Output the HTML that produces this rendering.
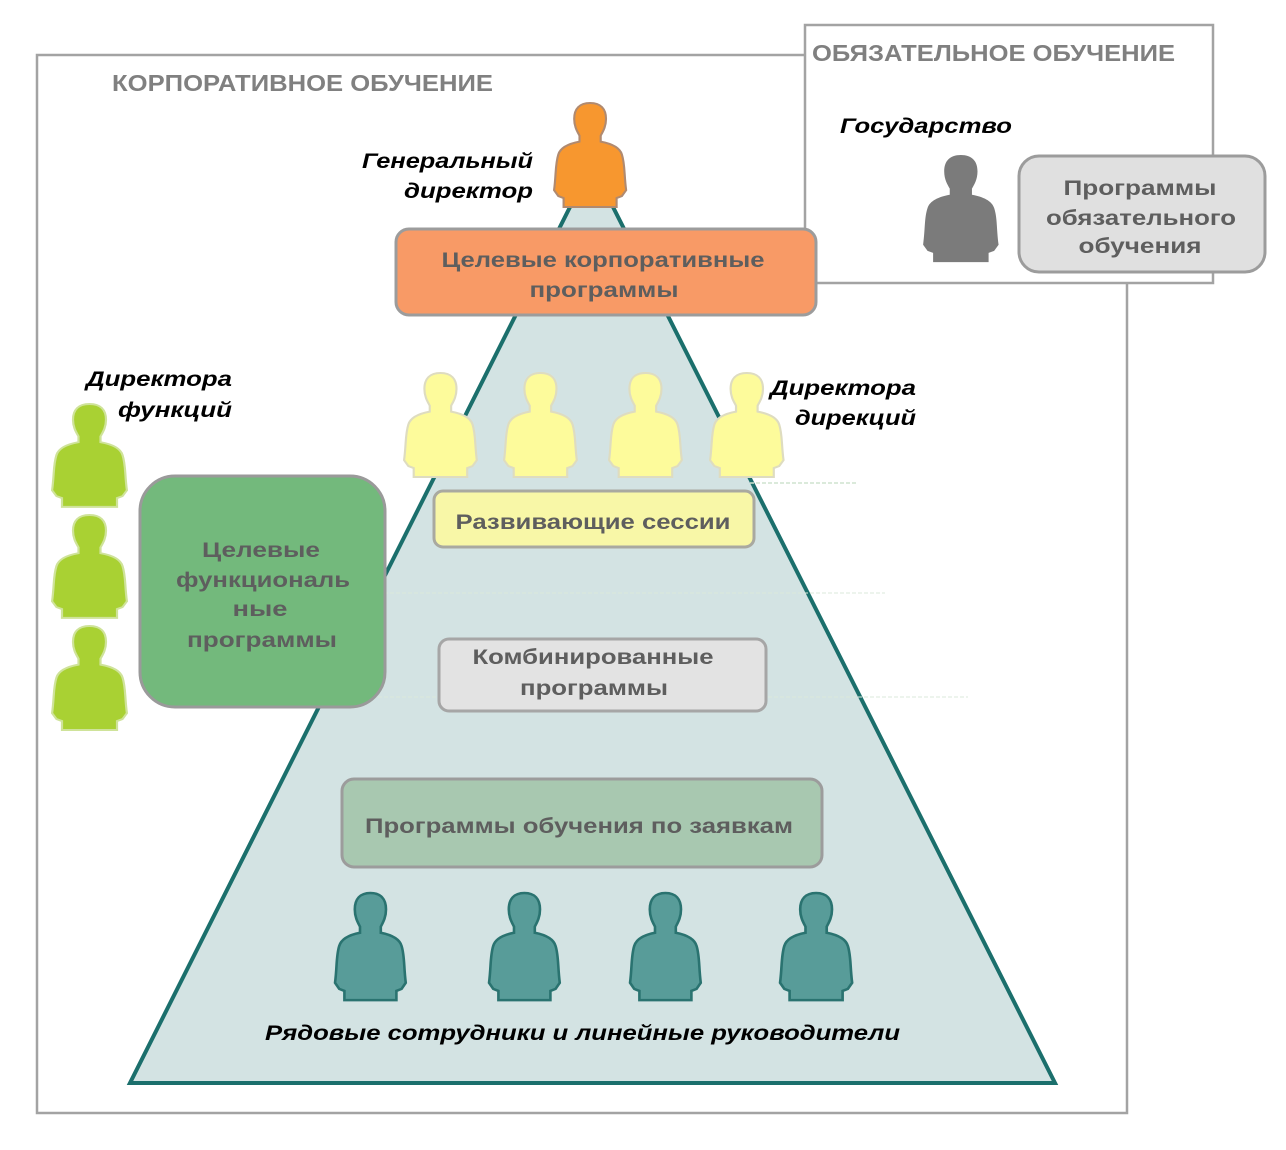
<!DOCTYPE html>
<html>
<head>
<meta charset="utf-8">
<style>
  html,body{margin:0;padding:0;background:#fff;}
  svg{display:block;}
  .lbl{font-family:"Liberation Sans","Noto Sans CJK SC",sans-serif;font-weight:bold;fill:#808080;}
  .bx{font-family:"Liberation Sans","Noto Sans CJK SC",sans-serif;font-weight:bold;fill:#5e5e5e;}
  .it{font-family:"Liberation Sans","Noto Sans CJK SC",sans-serif;font-weight:bold;font-style:italic;fill:#000;}
</style>
</head>
<body>
<svg width="1286" height="1150" viewBox="0 0 1286 1150" xmlns="http://www.w3.org/2000/svg">
  <defs>
    <path id="p" d="M35,0 C45,0 50,6 50,16 C50,24 47,29 45,33 L45,39 C55,41 63,45 65,52 C68,62 67,72 69,88 L65,94 L60,96 L60,105 L10,105 L10,96 L5,94 L1,88 C3,72 2,62 5,52 C7,45 15,41 25,39 L25,33 C23,29 20,24 20,16 C20,6 25,0 35,0 Z"/>
  </defs>

  <!-- corporate frame -->
  <rect x="37" y="55" width="1090" height="1058" fill="#fff" stroke="#a3a3a3" stroke-width="2.5"/>
  <text class="lbl" x="112" y="91" font-size="23" textLength="381" lengthAdjust="spacingAndGlyphs">КОРПОРАТИВНОЕ ОБУЧЕНИЕ</text>

  <!-- mandatory frame -->
  <rect x="805" y="25" width="408" height="258" fill="#fff" stroke="#a3a3a3" stroke-width="2.5"/>
  <text class="lbl" x="812" y="61" font-size="23" textLength="363" lengthAdjust="spacingAndGlyphs">ОБЯЗАТЕЛЬНОЕ ОБУЧЕНИЕ</text>
  <text class="it" x="840" y="133" font-size="21" textLength="172" lengthAdjust="spacingAndGlyphs">Государство</text>
  <use href="#p" transform="translate(922,155) scale(1.11,1.02)" fill="#7b7b7b"/>
  <rect x="1019" y="156" width="246" height="116" rx="20" ry="20" fill="#e0e0e0" stroke="#9c9c9c" stroke-width="3"/>
  <text class="bx" x="1140" y="195" font-size="21" text-anchor="middle" textLength="153" lengthAdjust="spacingAndGlyphs">Программы</text>
  <text class="bx" x="1141" y="225" font-size="21" text-anchor="middle" textLength="190" lengthAdjust="spacingAndGlyphs">обязательного</text>
  <text class="bx" x="1140" y="253" font-size="21" text-anchor="middle" textLength="123" lengthAdjust="spacingAndGlyphs">обучения</text>

  <!-- pyramid -->
  <polygon points="571,205 612,205 1055,1083 130,1083" fill="#d3e3e3"/>
  <path d="M571,205 L130,1083 L1055,1083 L612,205" fill="none" stroke="#1b6f6c" stroke-width="4" stroke-linejoin="miter"/>

  <!-- faint guide lines -->
  <line x1="750" y1="483" x2="858" y2="483" stroke="#cfe3cf" stroke-width="1.5" stroke-dasharray="4,2"/>
  <line x1="360" y1="593" x2="885" y2="593" stroke="#dbe9db" stroke-width="1" stroke-dasharray="4,2"/>
  <line x1="330" y1="697" x2="968" y2="697" stroke="#dbe9db" stroke-width="1" stroke-dasharray="4,2"/>

  <!-- CEO -->
  <use href="#p" transform="translate(553,103) scale(1.06,0.99)" fill="#f7972f" stroke="#b08a70" stroke-width="2"/>
  <text class="it" x="533" y="168" font-size="21" text-anchor="end" textLength="171" lengthAdjust="spacingAndGlyphs">Генеральный</text>
  <text class="it" x="533" y="198" font-size="21" text-anchor="end" textLength="129" lengthAdjust="spacingAndGlyphs">директор</text>

  <!-- orange box -->
  <rect x="396" y="229" width="420" height="86" rx="13" ry="13" fill="#f89a66" stroke="#9c9c9c" stroke-width="3"/>
  <text class="bx" x="603" y="267" font-size="21" text-anchor="middle" textLength="323" lengthAdjust="spacingAndGlyphs">Целевые корпоративные</text>
  <text class="bx" x="604" y="297" font-size="21" text-anchor="middle" textLength="149" lengthAdjust="spacingAndGlyphs">программы</text>

  <!-- yellow directors -->
  <use href="#p" transform="translate(403,373) scale(1.07,0.99)" fill="#fdfb9b" stroke="#dedcc0" stroke-width="2"/>
  <use href="#p" transform="translate(503,373) scale(1.07,0.99)" fill="#fdfb9b" stroke="#dedcc0" stroke-width="2"/>
  <use href="#p" transform="translate(608,373) scale(1.07,0.99)" fill="#fdfb9b" stroke="#dedcc0" stroke-width="2"/>
  <use href="#p" transform="translate(709,373) scale(1.08,0.99)" fill="#fdfb9b" stroke="#dedcc0" stroke-width="2"/>
  <text class="it" x="770" y="395" font-size="21" textLength="146" lengthAdjust="spacingAndGlyphs">Директора</text>
  <text class="it" x="916" y="425" font-size="21" text-anchor="end" textLength="121" lengthAdjust="spacingAndGlyphs">дирекций</text>

  <!-- yellow box -->
  <rect x="434" y="491" width="320" height="56" rx="9" ry="9" fill="#f8f7a7" stroke="#a9a9a0" stroke-width="3"/>
  <text class="bx" x="593" y="529" font-size="21" text-anchor="middle" textLength="275" lengthAdjust="spacingAndGlyphs">Развивающие сессии</text>

  <!-- combined box -->
  <rect x="439" y="639" width="327" height="72" rx="10" ry="10" fill="#e3e3e3" stroke="#a6a6a6" stroke-width="3"/>
  <text class="bx" x="593" y="664" font-size="21" text-anchor="middle" textLength="241" lengthAdjust="spacingAndGlyphs">Комбинированные</text>
  <text class="bx" x="594" y="695" font-size="21" text-anchor="middle" textLength="148" lengthAdjust="spacingAndGlyphs">программы</text>

  <!-- request box -->
  <rect x="342" y="779" width="480" height="88" rx="12" ry="12" fill="#a8c8b0" stroke="#9c9c9c" stroke-width="3"/>
  <text class="bx" x="579" y="833" font-size="21" text-anchor="middle" textLength="428" lengthAdjust="spacingAndGlyphs">Программы обучения по заявкам</text>

  <!-- teal staff -->
  <use href="#p" transform="translate(334,893) scale(1.04,1.02)" fill="#589c99" stroke="#2a7370" stroke-width="2.5"/>
  <use href="#p" transform="translate(488,893) scale(1.04,1.02)" fill="#589c99" stroke="#2a7370" stroke-width="2.5"/>
  <use href="#p" transform="translate(629,893) scale(1.04,1.02)" fill="#589c99" stroke="#2a7370" stroke-width="2.5"/>
  <use href="#p" transform="translate(779,893) scale(1.06,1.02)" fill="#589c99" stroke="#2a7370" stroke-width="2.5"/>
  <text class="it" x="265" y="1040" font-size="21" textLength="635" lengthAdjust="spacingAndGlyphs">Рядовые сотрудники и линейные руководители</text>

  <!-- function directors -->
  <text class="it" x="86" y="386" font-size="21" textLength="146" lengthAdjust="spacingAndGlyphs">Директора</text>
  <text class="it" x="232" y="417" font-size="21" text-anchor="end" textLength="114" lengthAdjust="spacingAndGlyphs">функций</text>
  <use href="#p" transform="translate(51,404) scale(1.1,0.98)" fill="#a9d133" stroke="#cfe39a" stroke-width="2"/>
  <use href="#p" transform="translate(51,515) scale(1.1,0.98)" fill="#a9d133" stroke="#cfe39a" stroke-width="2"/>
  <use href="#p" transform="translate(51,626) scale(1.1,0.99)" fill="#a9d133" stroke="#cfe39a" stroke-width="2"/>

  <!-- green box -->
  <rect x="140" y="476" width="245" height="231" rx="35" ry="35" fill="#73b97c" stroke="#9a9a9a" stroke-width="3"/>
  <text class="bx" x="261" y="557" font-size="21" text-anchor="middle" textLength="118" lengthAdjust="spacingAndGlyphs">Целевые</text>
  <text class="bx" x="263" y="587" font-size="21" text-anchor="middle" textLength="174" lengthAdjust="spacingAndGlyphs">функциональ</text>
  <text class="bx" x="260" y="616" font-size="21" text-anchor="middle" textLength="55" lengthAdjust="spacingAndGlyphs">ные</text>
  <text class="bx" x="262" y="647" font-size="21" text-anchor="middle" textLength="150" lengthAdjust="spacingAndGlyphs">программы</text>
</svg>
</body>
</html>
